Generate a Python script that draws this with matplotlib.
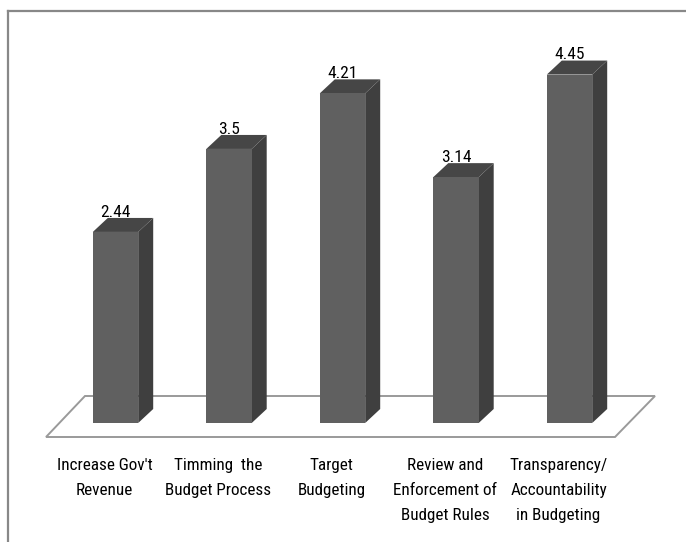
import matplotlib.pyplot as plt
from matplotlib.patches import Polygon
from matplotlib.lines import Line2D
from matplotlib import font_manager as fm

categories = [
    "Increase Gov't\nRevenue",
    "Timming  the\nBudget Process",
    "Target\nBudgeting",
    "Review and\nEnforcement of\nBudget Rules",
    "Transparency/\nAccountability\nin Budgeting",
]
values = [2.44, 3.5, 4.21, 3.14, 4.45]


# the reference uses a narrow (Calibri-like) face; pick a condensed one if there is any
def pick_font():
    fonts = fm.fontManager.ttflist
    for name in ['Liberation Sans Narrow', 'Roboto Condensed', 'Open Sans Condensed',
                 'Noto Sans Condensed', 'DejaVu Sans Condensed']:
        for f in fonts:
            if f.name == name and f.weight in (400, 'normal', 'regular') and f.style == 'normal':
                return fm.FontProperties(fname=f.fname)
    for f in fonts:
        if f.stretch in ('condensed', 'semi-condensed', 'extra-condensed') \
                and f.style == 'normal' and f.weight in (400, 'normal', 'regular'):
            return fm.FontProperties(fname=f.fname)
    return None


fp = pick_font()
narrow = fp is not None

W, H = 686, 542
fig = plt.figure(figsize=(W / 100, H / 100), dpi=100)

# axes placed in pixels: x index -0.5..4.5 -> 58.75..626.25 px, y 0..5 -> 423..31.5 px from top
ax_left, ax_right = 58.75, 626.25
ax_bottom, ax_top = 423, 31.5
ax = fig.add_axes([ax_left / W, 1 - ax_bottom / H,
                   (ax_right - ax_left) / W, (ax_bottom - ax_top) / H])
ax.set_xlim(-0.5, 4.5)
ax.set_ylim(0, 5)
ax.axis('off')

px_x = (ax_right - ax_left) / 5.0   # pixels per x unit
px_y = (ax_bottom - ax_top) / 5.0   # pixels per y unit
dx = 15 / px_x                     # depth of bars
dy = 14 / px_y
bw = 0.4

front_c = '#606060'
side_c = '#3f3f3f'
top_c = '#464646'

# floor
fy_top, fy_bot = 27 / px_y, -14 / px_y
floor = Polygon([(-0.612, fy_bot), (4.401, fy_bot), (4.753, fy_top), (-0.269, fy_top)],
                closed=True, facecolor='white', edgecolor='#9a9a9a', lw=1.4,
                clip_on=False, zorder=1)
ax.add_patch(floor)

x = range(len(values))
ax.bar(x, values, width=bw, color=front_c, zorder=3, clip_on=False)
for i, v in zip(x, values):
    l, r = i - bw / 2, i + bw / 2
    ax.add_patch(Polygon([(r, 0), (r + dx, dy), (r + dx, v + dy), (r, v)],
                         facecolor=side_c, edgecolor='none', zorder=2, clip_on=False))
    ax.add_patch(Polygon([(l, v), (r, v), (r + dx, v + dy), (l + dx, v + dy)],
                         facecolor=top_c, edgecolor='none', zorder=2, clip_on=False))

if narrow:
    val_fp = fp.copy()
    val_fp.set_size(12.5)
    val_kw = dict(fontproperties=val_fp)
    cat_fp = fp.copy()
    cat_fp.set_size(12.3)
    cat_kw = dict(fontproperties=cat_fp)
    lsp = 1.85
else:
    val_kw = dict(fontsize=11)
    cat_kw = dict(fontsize=10.5)
    lsp = 1.5

for i, v in zip(x, values):
    ax.text(i, v + dy - 0.02, f"{v:g}", ha='center', va='bottom', color='black',
            zorder=4, **val_kw)

# category labels, shifted a bit left like the floor front edge
for i, lab in zip(x, categories):
    ax.annotate(lab, xy=(i - 11 / px_x, 0), xytext=(0, -35), textcoords='offset pixels',
                ha='center', va='top', linespacing=lsp, annotation_clip=False, **cat_kw)

# chart frame (top and left edges visible)
fig.add_artist(Line2D([7.5 / W, 1], [1 - 11 / H, 1 - 11 / H], color='#888888', lw=1.6))
fig.add_artist(Line2D([7.5 / W, 7.5 / W], [0, 1 - 11 / H], color='#888888', lw=1.6))

fig.savefig('out.png', dpi=100, facecolor='white')
